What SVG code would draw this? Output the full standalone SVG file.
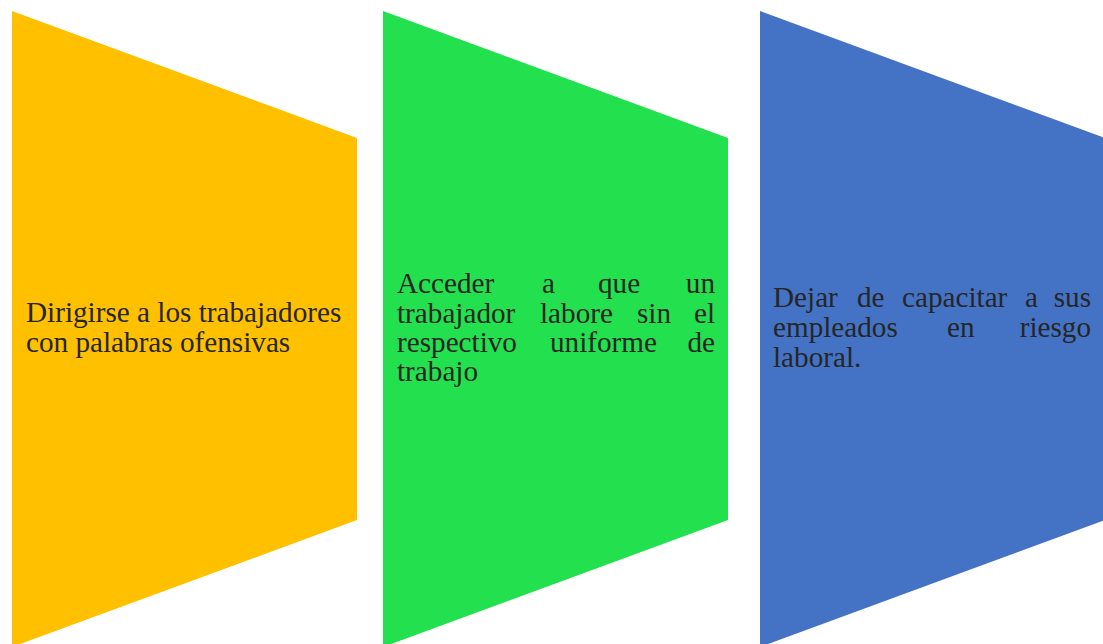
<svg xmlns="http://www.w3.org/2000/svg" width="1103" height="644" viewBox="0 0 1103 644">
<style>
.t{font-family:"Liberation Serif","Times New Roman",serif;font-size:29.2px;fill:#262626}
.e{text-anchor:end}
</style>
<rect width="1103" height="644" fill="#ffffff"/>
<g id="node1">
<polygon points="12,11 357,138 357,520 12,647" fill="#FFC000"/>
<text class="t" x="26" y="322">Dirigirse a los trabajadores</text>
<text class="t" x="26" y="352">con palabras ofensivas</text>
</g>
<g id="node2">
<polygon points="383,11 728,138 728,520 383,647" fill="#22E04E"/>
<text class="t" y="293"><tspan x="397">Acceder</tspan><tspan x="542">a</tspan><tspan x="598">que</tspan></text>
<text class="t e" x="715" y="293">un</text>
<text class="t" y="322.5"><tspan x="397">trabajador</tspan><tspan x="540">labore</tspan><tspan x="637">sin</tspan></text>
<text class="t e" x="715" y="322.5">el</text>
<text class="t" y="352"><tspan x="397">respectivo</tspan><tspan x="550">uniforme</tspan></text>
<text class="t e" x="715" y="352">de</text>
<text class="t" x="397" y="381">trabajo</text>
</g>
<g id="node3">
<polygon points="760,11 1105,138 1105,520 760,647" fill="#4472C4"/>
<text class="t" y="307"><tspan x="773">Dejar</tspan><tspan x="857">de</tspan><tspan x="902">capacitar</tspan><tspan x="1025">a</tspan></text>
<text class="t e" x="1091" y="307">sus</text>
<text class="t" y="337"><tspan x="773">empleados</tspan><tspan x="947">en</tspan></text>
<text class="t e" x="1091" y="337">riesgo</text>
<text class="t" x="773" y="367">laboral.</text>
</g>
<g id="connectors"/>
</svg>
